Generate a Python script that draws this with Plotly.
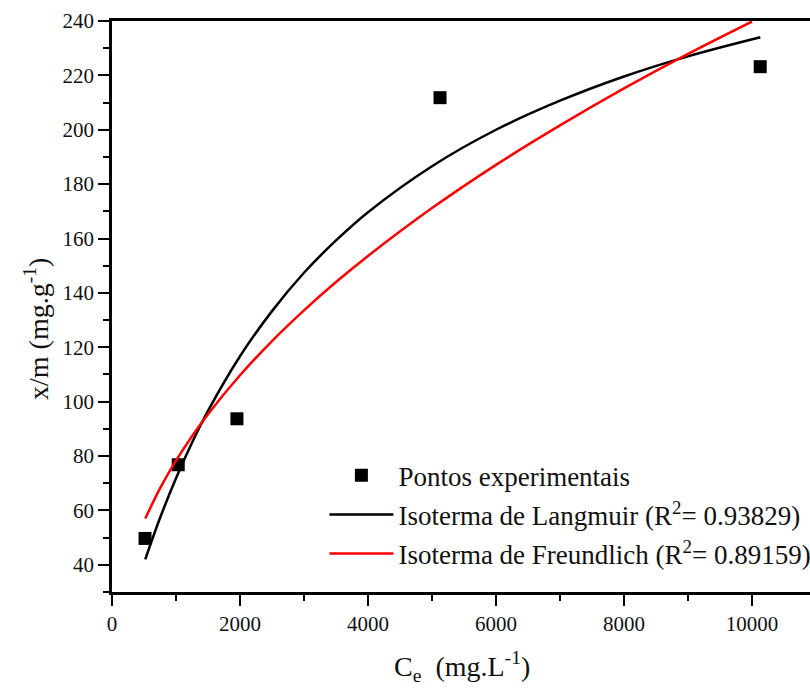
import plotly.graph_objects as go

# Experimental points
ce_exp = [516, 1035, 1952, 5125, 10128]
qe_exp = [49.7, 76.8, 93.7, 211.8, 223.2]

# Langmuir fitted curve
ce_lang = [520, 750, 1000, 1250, 1500, 2000, 2500, 3000, 3500, 4000, 5000, 6000, 7000, 8000, 9000, 10130]
qe_lang = [42.0, 57.2, 71.8, 84.9, 96.6, 116.7, 133.3, 147.4, 159.3, 169.7, 186.6, 200.0, 210.7, 219.6, 227.0, 234.0]

# Freundlich fitted curve
ce_freu = [520, 750, 1000, 1250, 1500, 2000, 2500, 3000, 3500, 4000, 5000, 6000, 7000, 8000, 9000, 10000]
qe_freu = [57.0, 68.1, 78.3, 87.3, 95.4, 109.7, 122.3, 133.6, 144.0, 153.6, 171.2, 187.1, 201.6, 215.2, 227.9, 239.8]

x_ticks = [0, 2000, 4000, 6000, 8000, 10000]
x_ticktext = ["0", "2000", "4000", "6000", "8000", "10000"]
y_ticks = [40, 60, 80, 100, 120, 140, 160, 180, 200, 220, 240]
y_ticktext = [str(v) for v in y_ticks]

font_family = "Times New Roman, Liberation Serif, DejaVu Serif, serif"

fig = go.Figure()
fig.add_trace(go.Scatter(x=ce_exp, y=qe_exp, mode="markers", name="Pontos experimentais",
                         legendgroup="a",
                         marker=dict(symbol="square", size=13, color="black")))
fig.add_trace(go.Scatter(x=ce_lang, y=qe_lang, mode="lines", line_shape="spline",
                         name="Isoterma de Langmuir (R<sup>2</sup>= 0.93829)", legendgroup="b",
                         line=dict(color="black", width=2.5)))
fig.add_trace(go.Scatter(x=ce_freu, y=qe_freu, mode="lines", line_shape="spline",
                         name="Isoterma de Freundlich (R<sup>2</sup>= 0.89159)", legendgroup="c",
                         line=dict(color="red", width=2.5)))

axis_common = dict(showgrid=False, zeroline=False, showline=True, linecolor="black", linewidth=2.5,
                   ticks="outside", ticklen=11, tickwidth=2, tickcolor="black",
                   tickfont=dict(family=font_family, size=21, color="#111"))

fig.update_xaxes(range=[0, 10906], tickvals=x_ticks, ticktext=x_ticktext, mirror=True,
                 minor=dict(dtick=1000, ticks="outside", ticklen=6, tickwidth=2, tickcolor="black"),
                 **axis_common)
fig.update_yaxes(range=[30, 240], tickvals=y_ticks, ticktext=y_ticktext, mirror=True,
                 minor=dict(dtick=10, ticks="outside", ticklen=6, tickwidth=2, tickcolor="black"),
                 **axis_common)

plot_w = 810 - 112
plot_h = 690 - 21 - 98

fig.add_annotation(text="C<sub>e</sub>  (mg.L<sup>-1</sup>)", xref="paper", yref="paper",
                   x=(462 - 112) / plot_w, y=-(666 - 592) / plot_h, xanchor="center", yanchor="middle",
                   showarrow=False, font=dict(family=font_family, size=28, color="#111"))
fig.add_annotation(text="x/m (mg.g<sup>-1</sup>)", xref="paper", yref="paper", textangle=-90,
                   x=-(112 - 36) / plot_w, y=(592 - 329) / plot_h, xanchor="center", yanchor="middle",
                   showarrow=False, font=dict(family=font_family, size=28, color="#111"))

fig.update_layout(
    width=810, height=690,
    margin=dict(l=112, r=0, t=21, b=98, autoexpand=False),
    plot_bgcolor="white", paper_bgcolor="white",
    font=dict(family=font_family, color="#111"),
    legend=dict(x=0.3043, y=0.2465, xanchor="left", yanchor="top", bgcolor="rgba(0,0,0,0)",
                font=dict(family=font_family, size=27, color="#111"), itemwidth=64, tracegroupgap=1),
)

fig.write_html("out.html")
